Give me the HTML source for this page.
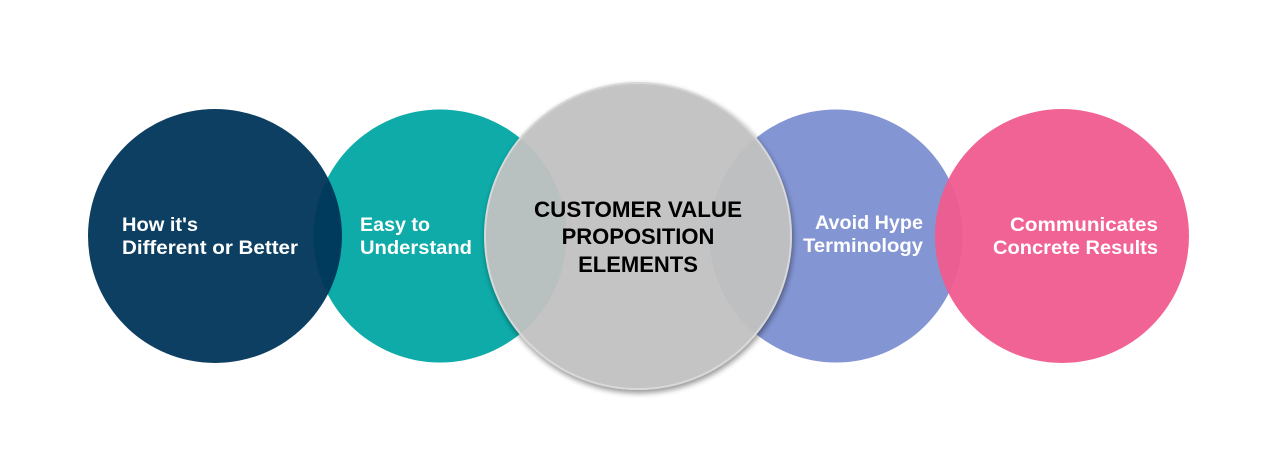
<!DOCTYPE html>
<html><head><meta charset="utf-8"><style>
html,body{margin:0;padding:0;background:#fff;width:1270px;height:472px;overflow:hidden}
svg{display:block}
text{font-family:"Liberation Sans",Arial,sans-serif;font-weight:bold}
</style></head><body>
<svg width="1270" height="472" viewBox="0 0 1270 472" xmlns="http://www.w3.org/2000/svg">
<defs>
<filter id="sh" x="-20%" y="-20%" width="140%" height="140%">
<feGaussianBlur in="SourceAlpha" stdDeviation="3"/>
<feOffset dx="1" dy="3"/>
<feComponentTransfer><feFuncA type="linear" slope="0.45"/></feComponentTransfer>
<feMerge><feMergeNode/><feMergeNode in="SourceGraphic"/></feMerge>
</filter>
</defs>
<circle cx="440" cy="236" r="126.5" fill="#0eaba9"/>
<circle cx="215" cy="236" r="127" fill="#00355a" fill-opacity="0.95"/>
<circle cx="836" cy="236" r="126.5" fill="#8395d3"/>
<circle cx="1062" cy="236" r="127" fill="#f05b8e" fill-opacity="0.95"/>
<circle cx="638" cy="236" r="153" fill="#c3c3c3" fill-opacity="0.92" stroke="#d8d8d8" stroke-width="2" filter="url(#sh)"/>
<g fill="#fff" font-size="19">
<text x="122" y="231" textLength="76" lengthAdjust="spacingAndGlyphs">How it's</text>
<text x="122" y="254" textLength="176" lengthAdjust="spacingAndGlyphs">Different or Better</text>
<text x="360" y="231" textLength="70" lengthAdjust="spacingAndGlyphs">Easy to</text>
<text x="360" y="254" textLength="112" lengthAdjust="spacingAndGlyphs">Understand</text>
<text x="815" y="229" textLength="108" lengthAdjust="spacingAndGlyphs">Avoid Hype</text>
<text x="803" y="252" textLength="120" lengthAdjust="spacingAndGlyphs">Terminology</text>
<text x="1010" y="231" textLength="148" lengthAdjust="spacingAndGlyphs">Communicates</text>
<text x="993" y="254" textLength="165" lengthAdjust="spacingAndGlyphs">Concrete Results</text>
</g>
<g fill="#000" font-size="22" text-anchor="middle">
<text x="638" y="217" textLength="208" lengthAdjust="spacingAndGlyphs">CUSTOMER VALUE</text>
<text x="638" y="244">PROPOSITION</text>
<text x="638" y="272">ELEMENTS</text>
</g>
</svg>
</body></html>
